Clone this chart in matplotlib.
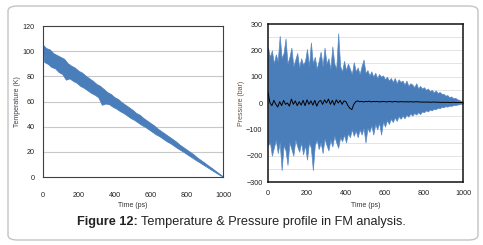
import numpy as np
import matplotlib
matplotlib.use("Agg")
import matplotlib.pyplot as plt
from matplotlib.patches import FancyBboxPatch

plt.rcParams["font.family"] = ["Liberation Sans", "DejaVu Sans"]

# ----------------------------------------------------------------------
# Data (time in ps)
# ----------------------------------------------------------------------
# Temperature band: upper edge every 20 ps (0..1000), lower edge at 10..990
temp_t_upper = np.arange(0, 1001, 20)
temp_upper = [105, 102, 101, 98, 96.5, 95, 93.5, 90, 88, 86.5,
              84, 82.5, 80, 78, 76, 73.5, 72, 69.5, 67, 65.5,
              63, 61.5, 59, 57, 55, 53, 50.5, 49, 46.5, 44.5,
              42.5, 40.5, 38, 36, 34, 32, 30, 28, 25.5, 23.5,
              21.5, 19.5, 17.5, 15, 13, 11, 8.8, 6.8, 4.6, 2.5,
              0.3]
temp_t_lower = np.arange(10, 1000, 20)
temp_lower = [91, 89.5, 87, 86, 83, 81.5, 77, 78, 76, 74.5,
              72, 70.5, 68.5, 66.5, 65, 63, 57, 58, 57.5, 55.5,
              54, 52, 50.5, 48.5, 46.5, 45, 43, 41, 39.5, 37.5,
              35.5, 33.5, 32, 30, 28, 26.5, 24.5, 22.5, 20.8, 19,
              17, 15.2, 13.3, 11.5, 9.7, 7.9, 6.1, 4.3, 2.5, 0.8]

# Pressure: upper / lower peaks every 10 ps
pres_t = np.arange(0, 1001, 10)
pres_upper = [210, 175, 200, 150, 185, 160, 255, 170, 190, 245,
              150, 175, 210, 140, 165, 190, 135, 170, 145, 160,
              205, 140, 230, 150, 175, 130, 160, 195, 140, 210,
              150, 170, 130, 215, 150, 130, 265, 140, 120, 160,
              125, 150, 130, 110, 155, 120, 135, 110, 140, 165,
              115, 125, 105, 120, 100, 115, 95, 110, 100, 105,
              90, 100, 85, 95, 80, 95, 75, 90, 80, 85,
              70, 85, 65, 75, 70, 60, 75, 55, 65, 55,
              60, 50, 55, 45, 50, 40, 48, 38, 42, 35,
              35, 28, 30, 22, 25, 18, 20, 14, 12, 8,
              5]
pres_lower = [-160, -150, -200, -170, -140, -190, -150, -255, -160, -180,
              -235, -150, -175, -200, -140, -165, -185, -150, -195, -160,
              -215, -150, -170, -255, -160, -140, -175, -150, -190, -135,
              -160, -180, -140, -165, -125, -150, -170, -130, -145, -120,
              -150, -115, -130, -100, -125, -105, -130, -100, -120, -95,
              -150, -95, -110, -85, -120, -80, -100, -75, -120, -70,
              -90, -65, -80, -60, -72, -55, -68, -50, -60, -48,
              -58, -45, -52, -40, -48, -38, -44, -35, -42, -32,
              -35, -28, -32, -25, -28, -22, -24, -18, -20, -15,
              -16, -12, -14, -10, -11, -8, -8, -6, -5, -3,
              -2]
pres_mean = [40, 0, -10, 10, -5, -15, 5, -10, 10, -5,
             0, -12, 15, -5, 8, -10, 5, -8, 10, -10,
             12, -5, 8, -8, 10, -12, 5, 10, -5, 12,
             0, 15, -5, 10, -8, 12, 0, 10, -5, 8,
             5, -10, -20, -25, -5, 5, 8, 5, 6, 4,
             6, 5, 7, 4, 6, 5, 6, 4, 5, 6,
             5, 4, 6, 5, 4, 6, 5, 4, 5, 5,
             4, 5, 4, 5, 4, 4, 5, 4, 4, 3,
             4, 3, 4, 3, 3, 4, 3, 3, 3, 2,
             3, 2, 3, 2, 2, 3, 2, 2, 2, 2,
             2]

blue = "#4a7ebb"
fig = plt.figure(figsize=(4.83, 2.45), dpi=100)

# outer rounded frame (outline only)
frame = FancyBboxPatch((8 / 483, 5 / 245), 470 / 483, 234 / 245,
                       boxstyle="round,pad=0,rounding_size=0.02",
                       transform=fig.transFigure, facecolor="none",
                       edgecolor="#c4c4c4", linewidth=1.0, zorder=-1)
fig.patches.append(frame)

# ----------------------------------------------------------------------
# Left: temperature (noisy band as a polygon through the peaks)
# ----------------------------------------------------------------------
ax1 = fig.add_axes([43 / 483, 1 - 177 / 245, 180 / 483, 151 / 245])
band_t = np.r_[temp_t_upper, temp_t_lower[::-1]]
band_v = np.r_[temp_upper, temp_lower[::-1]]
ax1.fill(band_t, band_v, color=blue, linewidth=0.6, edgecolor=blue, zorder=2)
ax1.set_xlim(0, 1000)
ax1.set_ylim(0, 120)
ax1.set_xticks(range(0, 1001, 200))
ax1.set_yticks(range(0, 121, 20))
for y in range(20, 101, 20):
    ax1.axhline(y, color="#c8c8c8", linewidth=0.8, zorder=0)
ax1.tick_params(length=0, labelsize=5.2, colors="#222222")
ax1.tick_params(axis="x", pad=11)
ax1.tick_params(axis="y", pad=6)
for s in ax1.spines.values():
    s.set_color("#404040")
    s.set_linewidth(0.8)
ax1.set_xlabel("Time (ps)", fontsize=5, color="#333333", labelpad=2)
ax1.set_ylabel("Temperature (K)", fontsize=5, color="#3a4050")
ax1.yaxis.set_label_coords(-0.122, 0.5)

# ----------------------------------------------------------------------
# Right: pressure
# ----------------------------------------------------------------------
ax2 = fig.add_axes([268 / 483, 1 - 182 / 245, 195 / 483, 158 / 245])
ax2.fill_between(pres_t, pres_lower, pres_upper, color=blue, linewidth=0.5,
                 edgecolor="#5b8ac4", zorder=2)
ax2.plot(pres_t, pres_mean, color="black", linewidth=0.7, zorder=3)
ax2.set_xlim(0, 1000)
ax2.set_ylim(-300, 300)
ax2.set_xticks(range(0, 1001, 200))
ax2.set_yticks(range(-300, 301, 100))
for y in range(-250, 300, 50):
    ax2.axhline(y, color="#e4e4e4", linewidth=0.7, zorder=0)
ax2.tick_params(length=0, labelsize=5.2, colors="#222222")
ax2.tick_params(axis="x", pad=6)
ax2.tick_params(axis="y", pad=4)
for s in ax2.spines.values():
    s.set_color("#111111")
    s.set_linewidth(1.1)
ax2.set_xlabel("Time (ps)", fontsize=5, color="#333333", labelpad=3)
ax2.set_ylabel("Pressure (bar)", fontsize=5, color="#6a4e3a")
ax2.yaxis.set_label_coords(-0.118, 0.5)

# caption: bold lead-in followed by regular text
cap_y = 1 - 222 / 245
t_bold = fig.text(77 / 483, cap_y, "Figure 12:", fontsize=9.2, fontweight="bold",
                  color="#222222", va="center", ha="left")
renderer = fig.canvas.get_renderer()
bb = t_bold.get_window_extent(renderer)
fig.text((bb.x1 + 3) / fig.bbox.width, cap_y,
         "Temperature & Pressure profile in FM analysis.", fontsize=9.2,
         color="#222222", va="center", ha="left")

plt.savefig("out.png", dpi=100)
